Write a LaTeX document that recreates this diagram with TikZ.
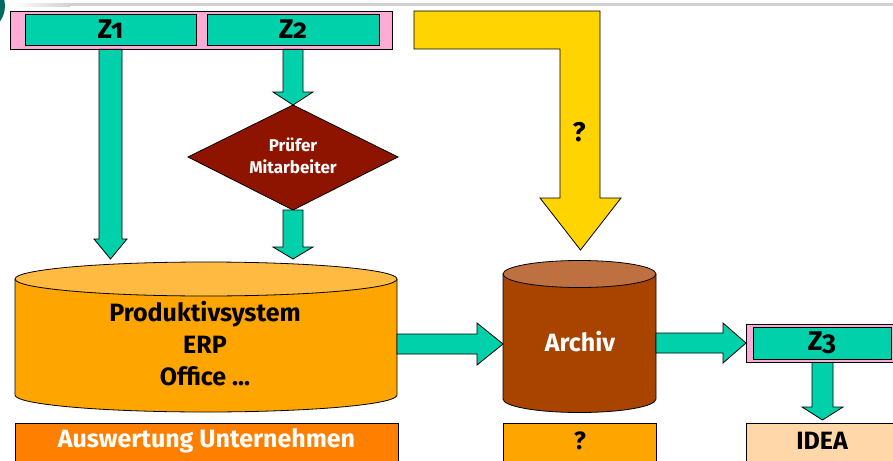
\documentclass[tikz,border=0pt]{standalone}
\usepackage{fontspec}
\setmainfont{Fira Sans}[Numbers=OldStyle]
\usetikzlibrary{calc}
\definecolor{tealc}{RGB}{0,209,170}
\definecolor{pinkc}{RGB}{255,172,212}
\definecolor{diamc}{RGB}{142,20,0}
\definecolor{orangec}{RGB}{255,165,0}
\definecolor{orangetop}{RGB}{255,186,66}
\definecolor{auswc}{RGB}{255,128,0}
\definecolor{archc}{RGB}{168,68,0}
\definecolor{archtop}{RGB}{190,112,64}
\definecolor{ideac}{RGB}{255,215,168}
\definecolor{yellowc}{RGB}{255,212,0}
\definecolor{darktealc}{RGB}{0,105,95}
\newcommand{\downblock}[6][blk]{%
  \draw[#1] let \p1=(#2), \p2=(#3) in
    (\x1-#4,\y1) -- (\x1+#4,\y1) -- (\x1+#4,\y2+#6) -- (\x1+#5,\y2+#6) --
    (\x1,\y2) -- (\x1-#5,\y2+#6) -- (\x1-#4,\y2+#6) -- cycle;}
\newcommand{\rightblock}[6][blk]{%
  \draw[#1] let \p1=(#2), \p2=(#3) in
    (\x1,\y1+#4) -- (\x2-#6,\y1+#4) -- (\x2-#6,\y1+#5) -- (\x2,\y1) --
    (\x2-#6,\y1-#5) -- (\x2-#6,\y1-#4) -- (\x1,\y1-#4) -- cycle;}
\begin{document}
\begin{tikzpicture}[x=1pt,y=-1pt,
  outl/.style={draw=black, line width=0.8pt},
  blk/.style={outl, fill=tealc, line join=miter},
  pinkbox/.style={outl, fill=pinkc, inner sep=0pt},
  zbox/.style={outl, fill=tealc, inner sep=0pt, font=\bfseries\fontsize{27}{28}\selectfont},
  bigtxt/.style={font=\bfseries\fontsize{25}{32}\selectfont, align=center, inner sep=0pt},
  midtxt/.style={font=\bfseries\fontsize{25}{28}\selectfont, inner sep=0pt},
  smalltxt/.style={font=\bfseries\fontsize{17}{22}\selectfont, align=center, inner sep=0pt, text=white}]
\clip (0,0) rectangle (893,460);
\fill[white] (0,0) rectangle (893,460);
% slide decoration
\shade[left color=white, right color=black!18] (12,3.5) rectangle (70,6.5);
\fill[black!18] (70,3.5) rectangle (893,6.5);
\fill[darktealc] (-21,6) circle[radius=26];

% top bar with Z1, Z2
\node[pinkbox, minimum width=382pt, minimum height=38pt] (bar) at (201,30) {};
\node[zbox, minimum width=171pt, minimum height=31pt] (z1) at (110.5,29.5) {Z1};
\node[zbox, minimum width=172pt, minimum height=31pt] (z2) at (293,29.5) {Z2};

% yellow L arrow
\draw[outl, fill=yellowc, line join=miter]
  (414,11) -- (600,11) -- (600,198) -- (621,198) -- (580.5,250) -- (540,198)
  -- (560,198) -- (560,49) -- (414,49) -- cycle;
\node[font=\bfseries\fontsize{27}{28}\selectfont, inner sep=0pt] (q1) at (579,132) {?};

% diamond
\coordinate (dtop) at (293,105);
\coordinate (dbot) at (293,210);
\draw[outl, fill=diamc] (dtop) -- (398,157) -- (dbot) -- (188,157) -- cycle;
\node[smalltxt] (pruefer) at (293,156) {Prüfer\\Mitarbeiter};

% big cylinder
\fill[orangec] (15,279) -- (15,395) arc[start angle=180, end angle=0, x radius=191, y radius=17] -- (397,279) -- cycle;
\draw[outl] (15,279) -- (15,395) arc[start angle=180, end angle=0, x radius=191, y radius=17] -- (397,279);
\draw[outl, fill=orangetop] (206,279) ellipse[x radius=191, y radius=17];
\node[bigtxt] (prod) at (205,344) {Produktivsystem\\ERP\\Office ...};
\coordinate (prodtop1) at (110.5,259);
\coordinate (prodtop2) at (293,259);
\coordinate (prodright) at (397,344);

% archiv cylinder
\fill[archc] (503,274) -- (503,399) arc[start angle=180, end angle=0, x radius=76.5, y radius=13.5] -- (656,274) -- cycle;
\draw[outl] (503,274) -- (503,399) arc[start angle=180, end angle=0, x radius=76.5, y radius=13.5] -- (656,274);
\draw[outl, fill=archtop] (579.5,274) ellipse[x radius=76.5, y radius=13.5];
\node[midtxt, text=white] (archiv) at (580,342) {Archiv};
\coordinate (archleft) at (503,344);
\coordinate (archright) at (656,343);

% Z3
\node[pinkbox, minimum width=154pt, minimum height=38pt] (z3bar) at (823,343) {};
\node[zbox, minimum width=138pt, minimum height=32pt] (z3) at (822,343) {Z3};
\coordinate (z3left) at (746,343);

% bottom boxes
\draw[outl, fill=auswc] (15,423) rectangle (398,470);
\node[midtxt, text=white] (ausw) at (206.5,441) {Auswertung Unternehmen};
\draw[outl, fill=orangec] (503,423) rectangle (656,470);
\node[midtxt] (q2) at (580,441) {?};
\draw[outl, fill=ideac] (746,423) rectangle (900,470);
\node[midtxt] (idea) at (822,441) {IDEA};
\coordinate (ideatop) at (822.5,420);

% teal block arrows
\downblock{bar.south -| z1}{prodtop1}{11.5}{16.5}{20}
\downblock{bar.south -| z2}{dtop}{10}{20}{13}
\downblock{dbot}{prodtop2}{10}{20}{12}
\downblock{z3bar.south -| ideatop}{ideatop}{10.5}{20.5}{13}
\rightblock{prodright}{archleft}{10}{21}{26}
\rightblock{archright}{z3left}{10}{20}{23}
\end{tikzpicture}
\end{document}
